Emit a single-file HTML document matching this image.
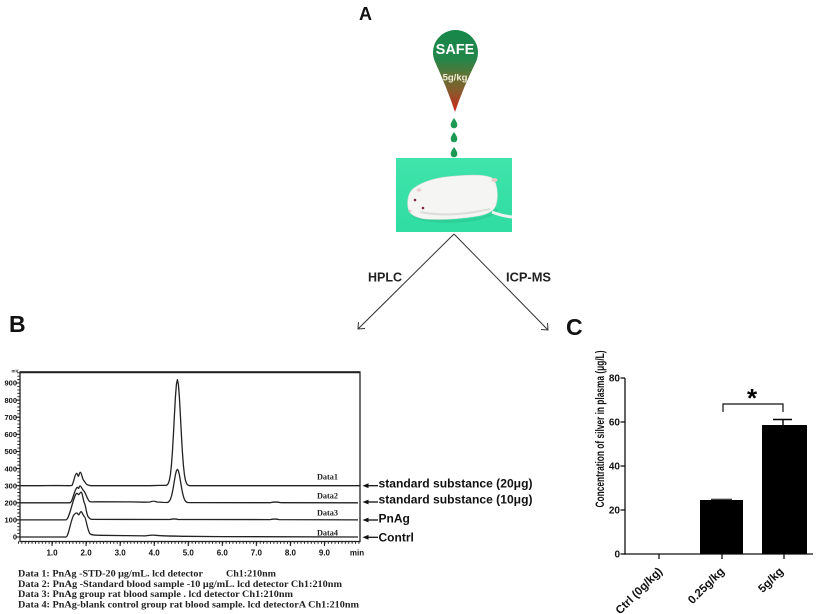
<!DOCTYPE html>
<html>
<head>
<meta charset="utf-8">
<style>
html,body{margin:0;padding:0;background:#fff;}
svg{display:block;}
.sans{font-family:"Liberation Sans",Arial,sans-serif;}
.serif{font-family:"Liberation Serif","Times New Roman",serif;}
</style>
</head>
<body>
<svg width="818" height="614" viewBox="0 0 818 614" xmlns="http://www.w3.org/2000/svg">
<defs>
  <linearGradient id="dropg" x1="0" y1="0" x2="0" y2="1">
    <stop offset="0" stop-color="#17874a"/>
    <stop offset="0.35" stop-color="#22864a"/>
    <stop offset="0.55" stop-color="#5d7436"/>
    <stop offset="0.75" stop-color="#8a5a2c"/>
    <stop offset="0.9" stop-color="#b53a22"/>
    <stop offset="1" stop-color="#d8261a"/>
  </linearGradient>
  <linearGradient id="matg" x1="0" y1="0" x2="0" y2="1">
    <stop offset="0" stop-color="#3fe4ab"/>
    <stop offset="1" stop-color="#30dca2"/>
  </linearGradient>
</defs>
<rect width="818" height="614" fill="#fff"/>

<!-- Panel labels -->
<text x="359" y="20" class="sans" font-size="18" font-weight="bold" fill="#111">A</text>
<text x="9" y="332" class="sans" font-size="23" font-weight="bold" fill="#111">B</text>
<text x="566" y="335" class="sans" font-size="23" font-weight="bold" fill="#111">C</text>

<!-- SAFE drop -->
<path d="M455,112 Q447,88 435.1,62 A22.5,22.5 0 1 1 475.9,62 Q463,88 455,112 Z" fill="url(#dropg)"/>
<text x="455" y="54" class="sans" font-size="14.5" font-weight="bold" fill="#fff" text-anchor="middle">SAFE</text>
<text x="455" y="80.5" class="sans" font-size="9.5" font-weight="bold" fill="#f3ecd8" text-anchor="middle">5g/kg</text>
<!-- droplets -->
<path d="M454,118 Q457.6,123 457.3,125 A3.3,3.3 0 1 1 450.7,125 Q450.4,123 454,118 Z" fill="#1c9a55"/>
<path d="M454,132 Q457.6,137 457.3,139 A3.3,3.3 0 1 1 450.7,139 Q450.4,137 454,132 Z" fill="#1c9a55"/>
<path d="M454,147 Q457.6,152 457.3,154 A3.3,3.3 0 1 1 450.7,154 Q450.4,152 454,147 Z" fill="#1c9a55"/>

<!-- rat photo -->
<rect x="396" y="158" width="116" height="74" fill="url(#matg)"/>
<path d="M412,214 C418,221 445,223 470,220 C485,218 493,215 497,209" fill="none" stroke="#2bc893" stroke-width="3" opacity="0.6"/>
<path d="M409,211 C406,203 408,192 414,188 C425,180 440,177 455,176 C470,175 485,174 492,178 C497,182 499,195 496,205 C494,211 488,214 478,216 C460,219 440,220 425,219 C417,218 411,215 409,211 Z" fill="#f5f5f3" stroke="#d8dcd8" stroke-width="0.6"/>
<path d="M420,212 C440,216 465,215 490,209" fill="none" stroke="#dcdcd8" stroke-width="2"/>
<path d="M492,212 Q502,216 512,217" fill="none" stroke="#f2f2f0" stroke-width="3"/>
<ellipse cx="494.5" cy="180" rx="3" ry="2" fill="#e8c8c8"/>
<ellipse cx="419" cy="190" rx="2.5" ry="1.8" fill="#eccfcf"/>
<circle cx="415" cy="200" r="1.3" fill="#7a2a3a"/>
<circle cx="423" cy="208" r="1.3" fill="#7a2a3a"/>
<ellipse cx="410" cy="211" rx="1.5" ry="1.2" fill="#e7c4c4"/>

<!-- branching arrows -->
<g stroke="#333" stroke-width="1" fill="none">
  <line x1="454" y1="234" x2="358" y2="329"/>
  <line x1="454" y1="234" x2="548" y2="330"/>
  <polyline points="358.5,322 358,329 365,328.5"/>
  <polyline points="541,329.5 548,330 547.5,323"/>
</g>
<text x="368" y="281.5" class="sans" font-size="12.5" font-weight="bold" fill="#222" textLength="34" lengthAdjust="spacingAndGlyphs">HPLC</text>
<text x="506" y="281.5" class="sans" font-size="12.5" font-weight="bold" fill="#222" textLength="45" lengthAdjust="spacingAndGlyphs">ICP-MS</text>

<!-- ============ Panel B chromatogram ============ -->
<g>
  <rect x="20" y="372" width="340" height="169.5" fill="none" stroke="#222" stroke-width="1.3"/>
  <line x1="20" y1="372.3" x2="360" y2="372.3" stroke="#222" stroke-width="2"/>
  <!-- minor ticks -->
  <line x1="18" y1="542.6" x2="360" y2="542.6" stroke="#222" stroke-width="2.6" stroke-dasharray="0.9 2.505"/>
  <line x1="18.5" y1="537.4" x2="18.5" y2="372" stroke="#222" stroke-width="2.4" stroke-dasharray="0.9 2.52"/>
  <!-- major ticks -->
  <g stroke="#222" stroke-width="1.1">
    <line x1="15.5" y1="537" x2="20" y2="537"/>
    <line x1="15.5" y1="519.9" x2="20" y2="519.9"/>
    <line x1="15.5" y1="502.8" x2="20" y2="502.8"/>
    <line x1="15.5" y1="485.7" x2="20" y2="485.7"/>
    <line x1="15.5" y1="468.6" x2="20" y2="468.6"/>
    <line x1="15.5" y1="451.5" x2="20" y2="451.5"/>
    <line x1="15.5" y1="434.3" x2="20" y2="434.3"/>
    <line x1="15.5" y1="417.2" x2="20" y2="417.2"/>
    <line x1="15.5" y1="400.1" x2="20" y2="400.1"/>
    <line x1="15.5" y1="383" x2="20" y2="383"/>
    <line x1="52.05" y1="541" x2="52.05" y2="546"/>
    <line x1="86.1" y1="541" x2="86.1" y2="546"/>
    <line x1="120.15" y1="541" x2="120.15" y2="546"/>
    <line x1="154.2" y1="541" x2="154.2" y2="546"/>
    <line x1="188.25" y1="541" x2="188.25" y2="546"/>
    <line x1="222.3" y1="541" x2="222.3" y2="546"/>
    <line x1="256.35" y1="541" x2="256.35" y2="546"/>
    <line x1="290.4" y1="541" x2="290.4" y2="546"/>
    <line x1="324.45" y1="541" x2="324.45" y2="546"/>
  </g>
  <!-- y labels -->
  <g class="sans" font-size="7.5" font-weight="bold" fill="#111" text-anchor="end">
    <text x="17" y="539.7">0</text>
    <text x="17" y="522.6">100</text>
    <text x="17" y="505.5">200</text>
    <text x="17" y="488.4">300</text>
    <text x="17" y="471.3">400</text>
    <text x="17" y="454.2">500</text>
    <text x="17" y="437">600</text>
    <text x="17" y="419.9">700</text>
    <text x="17" y="402.8">800</text>
    <text x="17" y="385.7">900</text>
  </g>
  <text x="15" y="372.5" class="sans" font-size="4.5" font-weight="bold" fill="#222" text-anchor="middle">mV</text>
  <!-- x labels -->
  <g class="sans" font-size="8" font-weight="bold" fill="#111" text-anchor="middle">
    <text x="52.05" y="555.5">1.0</text>
    <text x="86.1" y="555.5">2.0</text>
    <text x="120.15" y="555.5">3.0</text>
    <text x="154.2" y="555.5">4.0</text>
    <text x="188.25" y="555.5">5.0</text>
    <text x="222.3" y="555.5">6.0</text>
    <text x="256.35" y="555.5">7.0</text>
    <text x="290.4" y="555.5">8.0</text>
    <text x="324.45" y="555.5">9.0</text>
    <text x="357" y="555.5">min</text>
  </g>
  <!-- traces -->
  <g fill="none" stroke="#222" stroke-width="1.3" stroke-linejoin="round">
    <path d="M20,485.7 L40,485.7 L55,485.5 L69,485.7 L71.8,485.5 C73.5,484 74.8,473.5 76.6,473.3 C77.5,473.2 77.8,476.3 78.3,476.3 C79,476.3 79.4,472.3 80.3,472.3 C81.5,472.3 82.5,479.5 83.7,480.5 C85,481.8 86,484.2 87,484.6 C88.5,485.4 89.5,485.7 91,485.7 L150,485.7 L160,485.4 L166.4,485.3 L167.4,484.7 L168.4,483.1 L169.4,480.1 L170.4,474.6 L171.4,465.3 L172.4,452 L173.4,434.9 L174.4,415.5 L175.4,397.4 L176.4,384.4 L177.4,379.6 L178.4,384.4 L179.4,397.4 L180.4,415.5 L181.4,434.9 L182.4,452 L183.4,465.3 L184.4,474.6 L185.4,480.1 L186.4,483.1 L187.4,484.7 L188.4,485.3 L190,485.7 L360,485.7"/>
    <path d="M20,502.8 L70,502.8 C72.5,502.5 74.5,489 77,487.4 C77.8,486.9 78,488.5 78.6,488.3 C79.2,488 79.3,485.9 80,485.9 C81.2,485.9 82.3,489.8 83.6,490.6 C85.5,492 87.5,500.5 89.8,501.6 C91,502 93,501.8 100,501.8 L130,501.9 L145,502.2 L150,502 C152,501 155,501 157,502 L163,502.4 L167.4,502.5 L168.4,502 L169.4,501 L170.4,499.3 L171.4,496.4 L172.4,492.2 L173.4,486.7 L174.4,480.7 L175.4,474.9 L176.4,470.8 L177.4,469.3 L178.4,470.8 L179.4,474.9 L180.4,480.7 L181.4,486.7 L182.4,492.2 L183.4,496.4 L184.4,499.3 L185.4,501 L186.4,502 L187.4,502.5 L190,502.6 L270,502.7 C273,502 278,502 281,502.7 L358,502.8"/>
    <path d="M20,519.9 L66,519.9 C69,519.5 72,503 75,496 C76,493.5 76.5,493.3 76.9,493.3 C77.6,493.3 78,494.6 78.6,494.6 C79.5,494.6 80,492.2 81,492.2 C82.5,492.2 83.2,501 84.4,503 C85.8,506 86.5,514 88,516.5 C89.3,518.5 90.5,519.2 92,519.4 L170,519.5 C173,518.8 176,518.8 178,519.5 L270,519.6 C273,519 277,519 279,519.6 L358,519.9"/>
    <path d="M20,537 L66,537 C68.5,536.8 70.5,521 73.5,515.5 C74.8,513.3 76,513 76.9,513 C77.8,513 78,514.8 78.6,514.8 C79.5,514.8 80.1,511.7 81,511.7 C82.3,511.7 83,515.8 84.4,516.5 C86,517.5 87.5,531 90,533.8 C92,535.3 95,535.2 100,535.3 L125,535.6 L145,535.9 C149,535.5 152,534.6 156,535.3 C160,535.9 170,536 185,536.3 L220,536.6 L358,537"/>
  </g>
  <!-- data labels -->
  <g class="serif" font-size="8" font-weight="bold" fill="#222">
    <text x="317" y="479.7" textLength="21" lengthAdjust="spacingAndGlyphs">Data1</text>
    <text x="317" y="498.7" textLength="21" lengthAdjust="spacingAndGlyphs">Data2</text>
    <text x="317" y="515.7" textLength="21" lengthAdjust="spacingAndGlyphs">Data3</text>
    <text x="317" y="535.7" textLength="21" lengthAdjust="spacingAndGlyphs">Data4</text>
  </g>
  <!-- right arrows -->
  <g stroke="#111" stroke-width="1.3">
    <line x1="366" y1="485.7" x2="378" y2="485.7"/>
    <line x1="366" y1="502" x2="378" y2="502"/>
    <line x1="366" y1="520" x2="378" y2="520"/>
    <line x1="366" y1="537.3" x2="378" y2="537.3"/>
  </g>
  <g fill="#111">
    <polygon points="362.5,485.7 368.5,483.3 368.5,488.1"/>
    <polygon points="362.5,502 368.5,499.6 368.5,504.4"/>
    <polygon points="362.5,520 368.5,517.6 368.5,522.4"/>
    <polygon points="362.5,537.3 368.5,534.9 368.5,539.7"/>
  </g>
  <g class="sans" font-size="12" font-weight="bold" fill="#111">
    <text x="378.5" y="487.5" textLength="154" lengthAdjust="spacingAndGlyphs">standard substance (20μg)</text>
    <text x="378.5" y="503.5" textLength="154" lengthAdjust="spacingAndGlyphs">standard substance (10μg)</text>
    <text x="378.5" y="522.5">PnAg</text>
    <text x="378.5" y="541.5">Contrl</text>
  </g>
  <!-- caption -->
  <g class="serif" font-size="9.8" font-weight="bold" fill="#222">
    <text x="18" y="576.5" textLength="185" lengthAdjust="spacingAndGlyphs">Data 1: PnAg -STD-20 μg/mL. lcd detector</text>
    <text x="226" y="576.5" textLength="50" lengthAdjust="spacingAndGlyphs">Ch1:210nm</text>
    <text x="18" y="586.8" textLength="324" lengthAdjust="spacingAndGlyphs">Data 2: PnAg -Standard blood sample -10 μg/mL. lcd detector  Ch1:210nm</text>
    <text x="18" y="597" textLength="275" lengthAdjust="spacingAndGlyphs">Data 3: PnAg group rat blood sample . lcd detector  Ch1:210nm</text>
    <text x="18" y="607.3" textLength="341" lengthAdjust="spacingAndGlyphs">Data 4: PnAg-blank control group rat blood sample. lcd detectorA  Ch1:210nm</text>
  </g>
</g>

<!-- ============ Panel C bar chart ============ -->
<g>
  <g stroke="#111" stroke-width="1.3" fill="none">
    <line x1="625" y1="378" x2="625" y2="554.6"/>
    <line x1="624.4" y1="554" x2="813" y2="554"/>
    <line x1="620.5" y1="378" x2="625" y2="378"/>
    <line x1="620.5" y1="422" x2="625" y2="422"/>
    <line x1="620.5" y1="466" x2="625" y2="466"/>
    <line x1="620.5" y1="510" x2="625" y2="510"/>
    <line x1="620.5" y1="554" x2="625" y2="554"/>
    <line x1="659" y1="554" x2="659" y2="559"/>
    <line x1="722" y1="554" x2="722" y2="559"/>
    <line x1="784" y1="554" x2="784" y2="559"/>
  </g>
  <g class="sans" font-size="10" font-weight="bold" fill="#111" text-anchor="end">
    <text x="620" y="381.6">80</text>
    <text x="620" y="425.6">60</text>
    <text x="620" y="469.6">40</text>
    <text x="620" y="513.6">20</text>
    <text x="620" y="557.6">0</text>
  </g>
  <rect x="700" y="500" width="43" height="54" fill="#000"/>
  <line x1="711" y1="499.3" x2="732" y2="499.3" stroke="#000" stroke-width="1"/>
  <rect x="762" y="425" width="45" height="129" fill="#000"/>
  <line x1="783" y1="425" x2="783" y2="419.5" stroke="#000" stroke-width="1.4"/>
  <line x1="773" y1="419.5" x2="792" y2="419.5" stroke="#000" stroke-width="1.4"/>
  <path d="M723,412 V404 H783 V412" fill="none" stroke="#111" stroke-width="1.2"/>
  <text x="752" y="407" class="sans" font-size="26" font-weight="bold" fill="#000" text-anchor="middle">*</text>
  <text transform="translate(604,429) rotate(-90)" x="0" y="0" class="sans" font-size="11.5" font-weight="bold" fill="#111" text-anchor="middle" textLength="157" lengthAdjust="spacingAndGlyphs">Concentration of silver in plasma (μg/L)</text>
  <g class="sans" font-size="11.5" font-weight="bold" fill="#111" text-anchor="end">
    <text transform="translate(663,572) rotate(-45)">Ctrl (0g/kg)</text>
    <text transform="translate(725,572) rotate(-45)">0.25g/kg</text>
    <text transform="translate(784,572) rotate(-45)">5g/kg</text>
  </g>
</g>
</svg>
</body>
</html>
